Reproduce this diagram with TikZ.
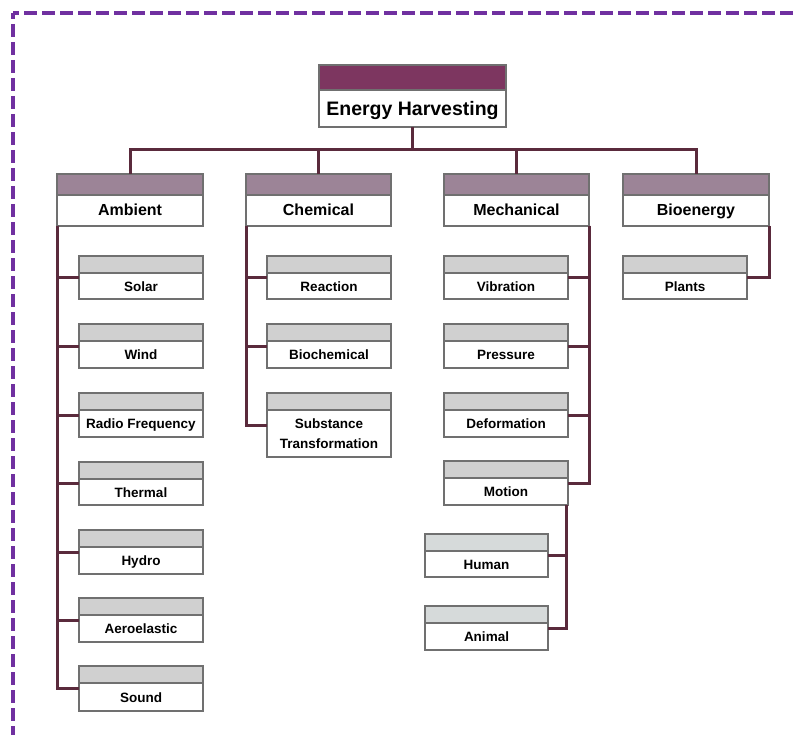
\documentclass[tikz,border=0pt]{standalone}
\usepackage{fontspec}
\setmainfont{Liberation Sans}
\usetikzlibrary{calc}
\definecolor{topbar}{HTML}{7D3660}
\definecolor{midbar}{HTML}{9C8497}
\definecolor{kidbar}{HTML}{D0D0D0}
\definecolor{kidbarb}{HTML}{D6DADA}
\definecolor{conn}{HTML}{5A2A3C}
\definecolor{edgegray}{HTML}{707070}
\definecolor{framecol}{HTML}{7030A0}
\tikzset{
  boxst/.style={draw=edgegray, line width=1.1pt, fill=white, inner sep=0pt, outer sep=0pt, anchor=north west},
  conline/.style={draw=conn, line width=3pt},
  topfont/.style={font=\bfseries\fontsize{19.5}{22}\selectfont, text height=0.72em, text depth=0pt, yshift=-3pt},
  midfont/.style={font=\bfseries\fontsize{16}{19}\selectfont, text height=0.72em, text depth=0pt, yshift=-1.5pt},
  kidfont/.style={font=\bfseries\fontsize{13.5}{19}\selectfont, text height=0.72em, text depth=0pt, yshift=-1.5pt},
  kidfonttwo/.style={font=\bfseries\fontsize{13.5}{20}\selectfont},
  framest/.style={draw=framecol, line width=3.8pt, dash pattern=on 13pt off 5pt, dash phase=7pt}
}
% #1 name #2 x1 #3 y1 #4 x2 #5 y2 #6 bar height #7 bar colour #8 text #9 font style
\newcommand\ebox[9]{%
  \node[boxst, minimum width={(#4-#2)*1pt}, minimum height={(#5-#3)*1pt}] (#1) at (#2,#3) {};
  \fill[#7] (#1.north west) rectangle ([yshift=-#6pt]#1.north east);
  \draw[edgegray, line width=1.1pt] (#1.north west) rectangle (#1.south east);
  \draw[edgegray, line width=1.1pt] ([yshift=-#6pt]#1.north west) -- ([yshift=-#6pt]#1.north east);
  \node[#9, align=center, inner sep=0pt] (#1-txt) at ($([yshift=-#6pt]#1.north)!0.5!(#1.south)$) {#8};
}
\begin{document}
\begin{tikzpicture}[x=1pt, y=-1pt]
\useasboundingbox (0,0) rectangle (797,735);
% frame
\coordinate (fc) at (13,13);
\coordinate (fb) at (13,745);
\coordinate (fr) at (805,13);
\draw[framest] (fc) -- (fb);
\draw[framest] (fc) -- (fr);

% boxes
\ebox{top}{319}{65}{506}{127}{25}{topbar}{Energy Harvesting}{topfont}
\ebox{amb}{57}{174}{203}{226}{21}{midbar}{Ambient}{midfont}
\ebox{chem}{246}{174}{391}{226}{21}{midbar}{Chemical}{midfont}
\ebox{mech}{444}{174}{589}{226}{21}{midbar}{Mechanical}{midfont}
\ebox{bio}{623}{174}{769}{226}{21}{midbar}{Bioenergy}{midfont}

\ebox{solar}{79}{256}{203}{299}{17}{kidbar}{Solar}{kidfont}
\ebox{wind}{79}{324}{203}{368}{17}{kidbar}{Wind}{kidfont}
\ebox{radio}{79}{393}{203}{437}{17}{kidbar}{Radio Frequency}{kidfont}
\ebox{thermal}{79}{462}{203}{505}{17}{kidbar}{Thermal}{kidfont}
\ebox{hydro}{79}{530}{203}{574}{17}{kidbar}{Hydro}{kidfont}
\ebox{aero}{79}{598}{203}{642}{17}{kidbar}{Aeroelastic}{kidfont}
\ebox{sound}{79}{666}{203}{711}{17}{kidbar}{Sound}{kidfont}

\ebox{react}{267}{256}{391}{299}{17}{kidbar}{Reaction}{kidfont}
\ebox{biochem}{267}{324}{391}{368}{17}{kidbar}{Biochemical}{kidfont}
\ebox{subst}{267}{393}{391}{457}{17}{kidbar}{Substance\\Transformation}{kidfonttwo}

\ebox{vib}{444}{256}{568}{299}{17}{kidbar}{Vibration}{kidfont}
\ebox{press}{444}{324}{568}{368}{17}{kidbar}{Pressure}{kidfont}
\ebox{deform}{444}{393}{568}{437}{17}{kidbar}{Deformation}{kidfont}
\ebox{motion}{444}{461}{568}{505}{17}{kidbar}{Motion}{kidfont}
\ebox{human}{425}{534}{548}{577}{17}{kidbarb}{Human}{kidfont}
\ebox{animal}{425}{606}{548}{650}{17}{kidbarb}{Animal}{kidfont}

\ebox{plants}{623}{256}{747}{299}{17}{kidbar}{Plants}{kidfont}

% connectors
\coordinate (bus) at ($(top.south)+(0,23)$);
\draw[conline] (top.south) -- (bus);
\draw[conline] (bus) -| (amb.north);
\draw[conline] (bus) -| (chem.north);
\draw[conline] (bus) -| (mech.north);
\draw[conline] (bus) -| (bio.north);

\foreach \k in {solar,wind,radio,thermal,hydro,aero,sound}
  \draw[conline] (amb.south west) |- (\k.west);
\foreach \k in {react,biochem,subst}
  \draw[conline] (chem.south west) |- (\k.west);
\foreach \k in {vib,press,deform,motion}
  \draw[conline] (mech.south east) |- (\k.east);
\coordinate (mt) at ([xshift=-2pt]motion.south east);
\foreach \k in {human,animal}
  \draw[conline] (mt) |- (\k.east);
\draw[conline] (bio.south east) |- (plants.east);
\end{tikzpicture}
\end{document}
